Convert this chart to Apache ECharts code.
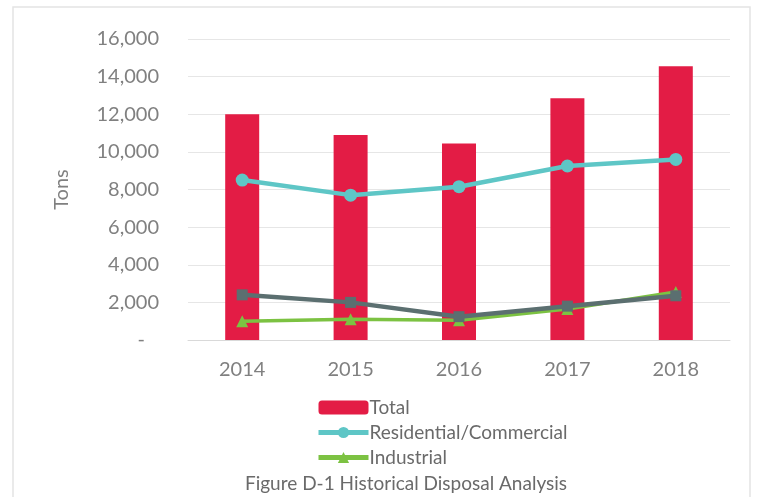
<!DOCTYPE html>
<html>
<head>
<meta charset="utf-8">
<script src="https://cdn.jsdelivr.net/npm/echarts@6/dist/echarts.min.js"></script>
<style>
  html, body { margin: 0; padding: 0; background: #fff; }
  #chart { width: 762px; height: 497px; }
</style>
</head>
<body>
<div id="chart"></div>
<script>
// Annual disposal tonnage by sector
const years = ['2014', '2015', '2016', '2017', '2018'];
const total = [12000, 10900, 10450, 12850, 14550];
const residentialCommercial = [8500, 7700, 8150, 9250, 9600];
const industrial = [1000, 1100, 1050, 1650, 2550];
const selfHaul = [2400, 2000, 1240, 1800, 2350];
const yTicks = { min: 0, max: 16000, interval: 2000 };

const FONT = 'Lato';
const chart = echarts.init(document.getElementById('chart'));

chart.setOption({
  backgroundColor: '#ffffff',
  animation: false,
  graphic: [{
    type: 'rect',
    shape: { x: 13, y: 7, width: 737, height: 500 },
    style: { fill: 'none', stroke: '#e4e4e4', lineWidth: 1.5 },
    silent: true
  }],
  title: {
    text: 'Figure D-1 Historical Disposal Analysis',
    left: 406, textAlign: 'center', top: 474,
    padding: 0,
    textStyle: { fontFamily: FONT, fontSize: 19, fontWeight: 'normal', color: '#6a6a6a' }
  },
  grid: { left: 188, right: 32, top: 39, bottom: 157 },
  legend: {
    orient: 'vertical',
    left: 311, top: 393,
    itemWidth: 50, itemHeight: 14, itemGap: 6,
    data: ['Total', 'Residential/Commercial', 'Industrial'],
    lineStyle: { width: 5 },
    textStyle: { fontFamily: FONT, fontSize: 19, color: '#6a6a6a', padding: [0, 0, 0, -4] }
  },
  xAxis: {
    type: 'category',
    data: years,
    axisLine: { show: true, lineStyle: { color: '#d9d9d9', width: 1 } },
    axisTick: { show: false },
    axisLabel: { fontFamily: FONT, fontSize: 20, color: '#808080', margin: 20 }
  },
  yAxis: {
    type: 'value',
    min: yTicks.min, max: yTicks.max, interval: yTicks.interval,
    name: 'Tons',
    nameLocation: 'middle',
    nameGap: 116,
    nameRotate: 90,
    nameTextStyle: { fontFamily: FONT, fontSize: 20, color: '#808080' },
    axisLine: { show: false },
    axisTick: { show: false },
    splitLine: { lineStyle: { color: '#e6e6e6', width: 1 } },
    axisLabel: {
      fontFamily: FONT, fontSize: 20, color: '#808080', margin: 29,
      formatter: v => v === 0 ? '{d|-}' : v.toLocaleString('en-US'),
      rich: { d: { fontFamily: FONT, fontSize: 20, color: '#808080', padding: [0, 14, 0, 0] } }
    }
  },
  series: [
    {
      name: 'Total',
      type: 'bar',
      data: total,
      barWidth: 34,
      itemStyle: { color: '#e31c45' },
      z: 1
    },
    {
      name: 'Residential/Commercial',
      type: 'line',
      data: residentialCommercial,
      symbol: 'circle', symbolSize: 13,
      lineStyle: { color: '#5ec6c6', width: 4.5 },
      itemStyle: { color: '#5ec6c6' },
      z: 3
    },
    {
      name: 'Industrial',
      type: 'line',
      data: industrial,
      symbol: 'triangle', symbolSize: 12,
      lineStyle: { color: '#7cc242', width: 3.5 },
      itemStyle: { color: '#7cc242' },
      z: 4
    },
    {
      name: 'Self-Haul',
      type: 'line',
      data: selfHaul,
      symbol: 'rect', symbolSize: 11,
      lineStyle: { color: '#5b6f70', width: 4.5 },
      itemStyle: { color: '#5b6f70' },
      z: 5
    }
  ]
});
</script>
</body>
</html>
